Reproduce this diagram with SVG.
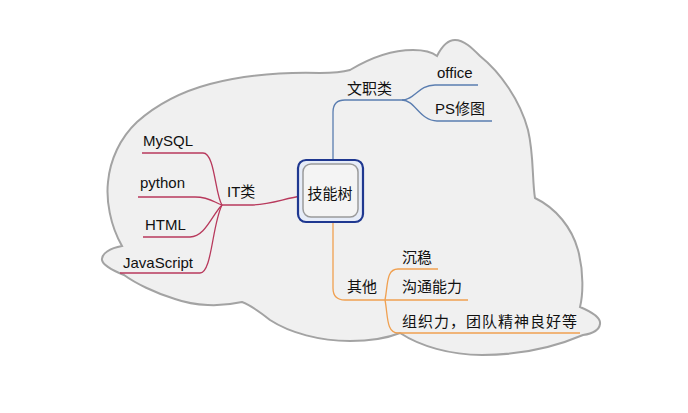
<svg xmlns="http://www.w3.org/2000/svg" width="688" height="413" viewBox="0 0 688 413">
<style>
  text { font-family: "Liberation Sans", "Noto Sans CJK SC", sans-serif; font-size: 15px; fill: #111; }
  .c { fill: none; stroke-width: 1.3; }
  .blue { stroke: #5a7db0; }
  .red { stroke: #b8395c; }
  .orange { stroke: #f0a050; }
</style>
<rect width="688" height="413" fill="#ffffff"/>
<g id="cloud">
  <path d="M 122,246 C 110,225 106,200 108,182 C 110,160 120,138 137,122 C 155,106 180,92 210,84 C 245,75 285,72 320,73 C 335,73 343,72 350,70 C 370,58 393,50 413,50 C 425,50 432,52 437,56 C 441,48 447,40 455,40 C 464,40 472,48 480,56 C 500,72 520,100 528,130 C 534,155 532,180 535,198 C 556,208 572,228 578,250 C 584,272 583,295 580,307 C 592,312 601,318 600,324 C 599,331 590,334 583,335 C 555,347 520,355 482,355 C 450,355 420,346 400,333 C 385,339 368,341 350,341 C 320,341 290,333 270,320 C 260,312 250,305 242,302 C 220,307 195,306 175,299 C 155,293 135,283 124,275 C 114,271 103,266 102,260 C 101,254 110,248 122,246 Z" fill="#f0f0f0" stroke="#a3a3a3" stroke-width="2"/>
</g>
<g id="connectors">
  <path class="c blue" d="M 333,163 L 333,112 Q 333,100 345,100 L 402,100"/>
  <path class="c blue" d="M 402,100 C 415,100 418,85 435,85 L 478,85"/>
  <path class="c blue" d="M 402,100 C 415,100 420,121 437,121 L 492,121"/>
  <path class="c red" d="M 222,205 L 250,205 C 270,205 285,198 302,196"/>
  <path class="c red" d="M 142,153 L 203,153 C 215,153 215,195 222,205"/>
  <path class="c red" d="M 138,197 L 195,197 C 210,197 215,203 222,205"/>
  <path class="c red" d="M 143,237 L 190,237 C 205,237 212,215 222,205"/>
  <path class="c red" d="M 120,273 L 200,273 C 212,273 212,225 222,205"/>
  <path class="c orange" d="M 333,222 L 333,288 Q 333,300 345,300 L 468,300"/>
  <path class="c orange" d="M 385,300 C 388,285 386,269 398,269 L 438,269"/>
  <path class="c orange" d="M 385,300 C 388,315 386,333 398,333 L 580,333"/>
</g>
<g id="root">
  <rect x="298" y="160" width="65" height="62" rx="8" fill="#e6ecf8" stroke="#1f3890" stroke-width="2.2"/>
  <rect x="303" y="164" width="55" height="53" rx="8" fill="#f4f4f4" stroke="#9a9a9a" stroke-width="1.5"/>
  <text x="330" y="199" text-anchor="middle">技能树</text>
</g>
<g id="n-wenzhi"><text x="347" y="94">文职类</text></g>
<g id="n-office"><text x="437" y="78">office</text></g>
<g id="n-ps"><text x="435" y="114">PS修图</text></g>
<g id="n-it"><text x="227" y="197">IT类</text></g>
<g id="n-mysql"><text x="143" y="146">MySQL</text></g>
<g id="n-python"><text x="140" y="188">python</text></g>
<g id="n-html"><text x="145" y="230">HTML</text></g>
<g id="n-js"><text x="123" y="268">JavaScript</text></g>
<g id="n-other"><text x="347" y="292">其他</text></g>
<g id="n-chenwen"><text x="402" y="263">沉稳</text></g>
<g id="n-goutong"><text x="402" y="292">沟通能力</text></g>
<g id="n-zuzhi"><text x="402" y="327" letter-spacing="1">组织力，团队精神良好等</text></g>
</svg>
